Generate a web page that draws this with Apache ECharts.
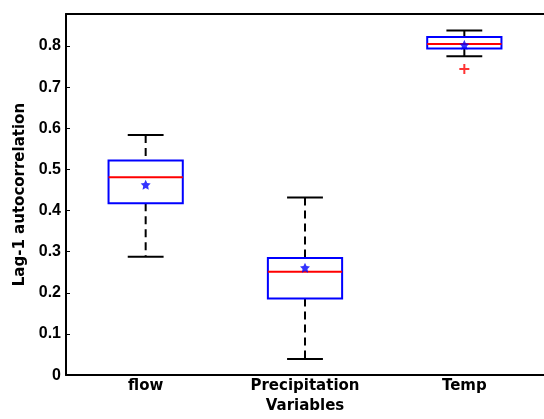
<!DOCTYPE html>
<html><head><meta charset="utf-8">
<script src="https://cdn.jsdelivr.net/npm/echarts@6/dist/echarts.min.js"></script>
<style>html,body{margin:0;padding:0;background:#fff;overflow:hidden}#c{width:544px;height:419px}</style>
</head><body><div id="c"></div>
<script>
var categories = ['flow', 'Precipitation', 'Temp'];
var whiskerLow = [0.288, 0.039, 0.775];
var q1 = [0.418, 0.1865, 0.794];
var median = [0.481, 0.251, 0.805];
var q3 = [0.522, 0.285, 0.822];
var whiskerHigh = [0.584, 0.432, 0.838];
var means = [0.463, 0.261, 0.803];
var outlierCats = ['Temp'];
var outlierVals = [0.744];

var BOX_FRAC = 0.233, CAP_FRAC = 0.1125;
var boxData = categories.map(function (c, i) {
  return [i, whiskerLow[i], q1[i], median[i], q3[i], whiskerHigh[i]];
});
var meanData = means.map(function (m, i) { return [categories[i], m]; });
var outlierData = outlierCats.map(function (c, i) { return [c, outlierVals[i]]; });
var font = 'DejaVu Sans, sans-serif';
var tickFont = 'Liberation Sans, Arial, sans-serif';

var chart = echarts.init(document.getElementById('c'));
chart.setOption({
  animation: false,
  grid: { left: 66, top: 14, width: 480, bottom: 38 },
  xAxis: [{
    type: 'category', data: categories, boundaryGap: true,
    name: 'Variables', nameLocation: 'middle', nameGap: 20,
    nameTextStyle: { fontFamily: font, fontSize: 15, fontWeight: 'bold', color: '#000' },
    axisLine: { lineStyle: { color: '#000', width: 2 } },
    axisTick: { show: false },
    splitLine: { show: false },
    axisLabel: { fontFamily: font, fontSize: 15, fontWeight: 'bold', color: '#000', margin: 4, interval: 0 }
  }, {
    type: 'category', data: categories, position: 'top',
    axisLine: { lineStyle: { color: '#000', width: 2 } },
    axisTick: { show: false }, axisLabel: { show: false }, splitLine: { show: false }
  }],
  yAxis: {
    type: 'value', min: 0, max: 0.878, interval: 0.1,
    name: 'Lag-1 autocorrelation', nameLocation: 'middle', nameGap: 37,
    nameTextStyle: { fontFamily: font, fontSize: 15, fontWeight: 'bold', color: '#000' },
    axisLine: { show: true, lineStyle: { color: '#000', width: 2 } },
    axisTick: { show: true, inside: true, length: 4, lineStyle: { color: '#000', width: 1 } },
    splitLine: { show: false },
    axisLabel: {
      fontFamily: tickFont, fontSize: 16, fontWeight: 'bold', color: '#000', margin: 5,
      showMaxLabel: false,
      formatter: function (v) { return String(Math.round(v * 10) / 10); }
    }
  },
  series: [
    {
      type: 'custom',
      data: boxData,
      renderItem: function (params, api) {
        var x = api.value(0);
        var lo = api.value(1), a = api.value(2), m = api.value(3), b = api.value(4), hi = api.value(5);
        var band = api.size([1, 0])[0];
        var bh = band * BOX_FRAC, ch = band * CAP_FRAC;
        var pHi = api.coord([x, hi]), pLo = api.coord([x, lo]);
        var pB = api.coord([x, b]), pA = api.coord([x, a]), pM = api.coord([x, m]);
        var cx = pHi[0];
        var dash = { stroke: '#000', lineWidth: 2, lineDash: [8, 5] };
        var solid = { stroke: '#000', lineWidth: 2 };
        return {
          type: 'group',
          children: [
            { type: 'line', shape: { x1: cx, y1: pHi[1], x2: cx, y2: pB[1] }, style: dash },
            { type: 'line', shape: { x1: cx, y1: pA[1], x2: cx, y2: pLo[1] }, style: dash },
            { type: 'line', shape: { x1: cx - ch, y1: pHi[1], x2: cx + ch, y2: pHi[1] }, style: solid },
            { type: 'line', shape: { x1: cx - ch, y1: pLo[1], x2: cx + ch, y2: pLo[1] }, style: solid },
            { type: 'rect', shape: { x: cx - bh, y: pB[1], width: 2 * bh, height: pA[1] - pB[1] },
              style: { fill: 'none', stroke: '#0000ff', lineWidth: 2 } },
            { type: 'line', shape: { x1: cx - bh, y1: pM[1], x2: cx + bh, y2: pM[1] }, style: { stroke: '#ff0000', lineWidth: 2 } }
          ]
        };
      },
      z: 2
    },
    {
      type: 'scatter', data: meanData,
      symbol: 'path://M0,-10 L2.9,-4 L9.5,-3.1 L4.7,1.5 L5.9,8.1 L0,5 L-5.9,8.1 L-4.7,1.5 L-9.5,-3.1 L-2.9,-4 Z',
      symbolSize: 10, itemStyle: { color: '#0000ff' }, z: 5
    },
    {
      type: 'scatter', data: outlierData,
      symbol: 'path://M-1,-5 L1,-5 L1,-1 L5,-1 L5,1 L1,1 L1,5 L-1,5 L-1,1 L-5,1 L-5,-1 L-1,-1 Z',
      symbolSize: 10, itemStyle: { color: '#ff0000' }, z: 5
    }
  ]
});
</script></body></html>
